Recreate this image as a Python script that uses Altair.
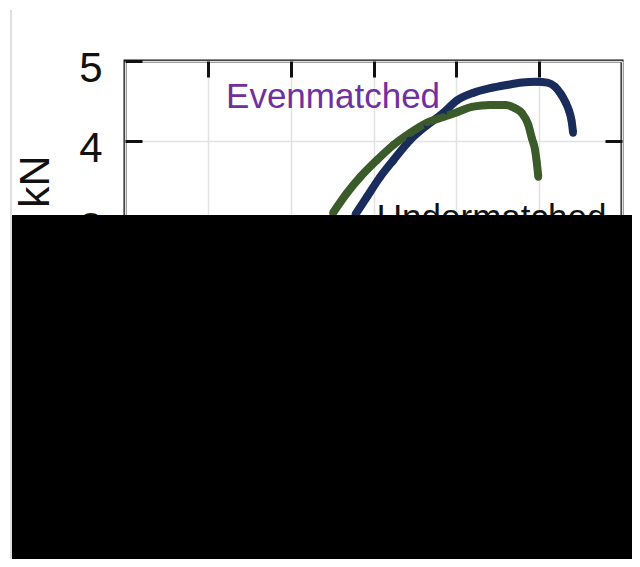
import altair as alt
import pandas as pd

# ---- data (x: displacement, y: load in kN) ----
blue_x = [2.78, 2.92, 3.08, 3.24, 3.44, 3.65, 3.84, 4.01, 4.20, 4.41, 4.61, 4.79, 4.97, 5.10, 5.19, 5.26, 5.32, 5.36, 5.39, 5.41]
blue_y = [3.08, 3.30, 3.55, 3.76, 4.01, 4.20, 4.35, 4.51, 4.60, 4.66, 4.70, 4.73, 4.74, 4.73, 4.68, 4.59, 4.48, 4.38, 4.26, 4.10]
green_x = [2.51, 2.68, 2.84, 3.04, 3.24, 3.44, 3.65, 3.84, 4.01, 4.20, 4.41, 4.59, 4.71, 4.79, 4.87, 4.91, 4.95, 4.97, 4.99]
green_y = [3.10, 3.35, 3.55, 3.76, 3.95, 4.10, 4.23, 4.30, 4.36, 4.43, 4.45, 4.45, 4.41, 4.35, 4.20, 4.04, 3.89, 3.74, 3.55]
series_names = ["Blue specimen", "Green specimen"]
series_colors = ["#1a2c5b", "#3b5b2a"]

label_text = ["Evenmatched", "Undermatched"]
label_x = [1.22, 3.04]
label_y = [4.41, 2.90]
label_colors = ["#7030a0", "#111111"]

x_ticks = [0, 1, 2, 3, 4, 5, 6]
y_ticks = [0, 1, 2, 3, 4, 5]

FONT = "Liberation Sans"

curves = pd.concat([
    pd.DataFrame({"disp": blue_x, "load": blue_y, "series": series_names[0], "order": range(len(blue_x))}),
    pd.DataFrame({"disp": green_x, "load": green_y, "series": series_names[1], "order": range(len(green_x))}),
])
labels = pd.DataFrame({"disp": label_x, "load": label_y, "text": label_text})

xs = alt.Scale(domain=[0, 6], nice=False, zero=False)
ys = alt.Scale(domain=[0, 5], nice=False, zero=False)
cscale = alt.Scale(domain=series_names, range=series_colors)

lines = alt.Chart(curves).mark_line(strokeWidth=8, strokeCap="butt", interpolate="monotone").encode(
    x=alt.X("disp:Q", scale=xs, axis=alt.Axis(
        orient="bottom", grid=True, gridColor="#e2e2e2", gridWidth=1.5, domain=False, ticks=False,
        values=x_ticks, labelFont=FONT, labelFontSize=41, labelColor="#111",
        title="Displacement, mm", titleFont=FONT, titleFontSize=41, titleFontWeight="normal", zindex=0)),
    y=alt.Y("load:Q", scale=ys, axis=alt.Axis(
        orient="left", offset=-17, tickSize=17, tickWidth=3, tickColor="#111", domain=False, grid=False,
        values=y_ticks, labelFont=FONT, labelFontSize=42, labelColor="#111", labelPadding=23,
        labelBaseline="middle", labelOffset=7, labelFlush=False, labelOverlap=False,
        title="Load, kN", titleFont=FONT, titleFontSize=43, titleFontWeight="normal", titleColor="#111",
        titleAngle=270, titleAlign="right", titleBaseline="middle", titleX=-107, titleY=94, zindex=0)),
    color=alt.Color("series:N", scale=cscale, legend=None),
    order="order:Q",
)

dots = alt.Chart(curves).mark_circle(size=55, opacity=1).encode(
    x=alt.X("disp:Q", scale=xs, axis=alt.Axis(
        orient="top", offset=-16, tickSize=16, tickWidth=3, tickColor="#111", domain=False, grid=False,
        labels=False, values=[1, 2, 3, 4, 5], title=None, zindex=0)),
    y=alt.Y("load:Q", scale=ys, axis=alt.Axis(
        orient="right", offset=-17, tickSize=17, tickWidth=3, tickColor="#111", domain=False, grid=False,
        labels=False, values=[1, 2, 3, 4], title=None, zindex=0)),
    color=alt.Color("series:N", scale=cscale, legend=None),
)

texts = alt.Chart(labels).mark_text(align="left", baseline="alphabetic", font=FONT, fontSize=35).encode(
    x=alt.X("disp:Q", scale=xs, axis=None),
    y=alt.Y("load:Q", scale=ys, axis=alt.Axis(
        orient="left", grid=True, gridColor="#e2e2e2", gridWidth=1.5, domain=False, ticks=False,
        labels=False, values=y_ticks, title=None, zindex=0)),
    text="text:N",
    color=alt.Color("text:N", scale=alt.Scale(domain=label_text, range=label_colors), legend=None),
)

one = pd.DataFrame({"k": [0]})
edge = alt.Chart(one).mark_rule(color="#d4d4d4", strokeWidth=1.5, clip=False).encode(
    x=alt.value(-114), y=alt.value(-51), y2=alt.value(520))
mask = alt.Chart(one).mark_rect(color="black", clip=False).encode(
    x=alt.value(-113), x2=alt.value(540), y=alt.value(154), y2=alt.value(540))

chart = alt.layer(lines, dots, texts, edge, mask).resolve_axis(
    x="independent", y="independent"
).resolve_scale(color="independent").properties(
    width=497, height=400,
    autosize=alt.AutoSizeParams(type="none"),
    padding={"left": 117, "top": 53, "right": 10, "bottom": 98},
    background="white",
).configure_view(stroke="#111", strokeWidth=3)

chart.save("out.html", embed_options={"renderer": "svg", "actions": False})
